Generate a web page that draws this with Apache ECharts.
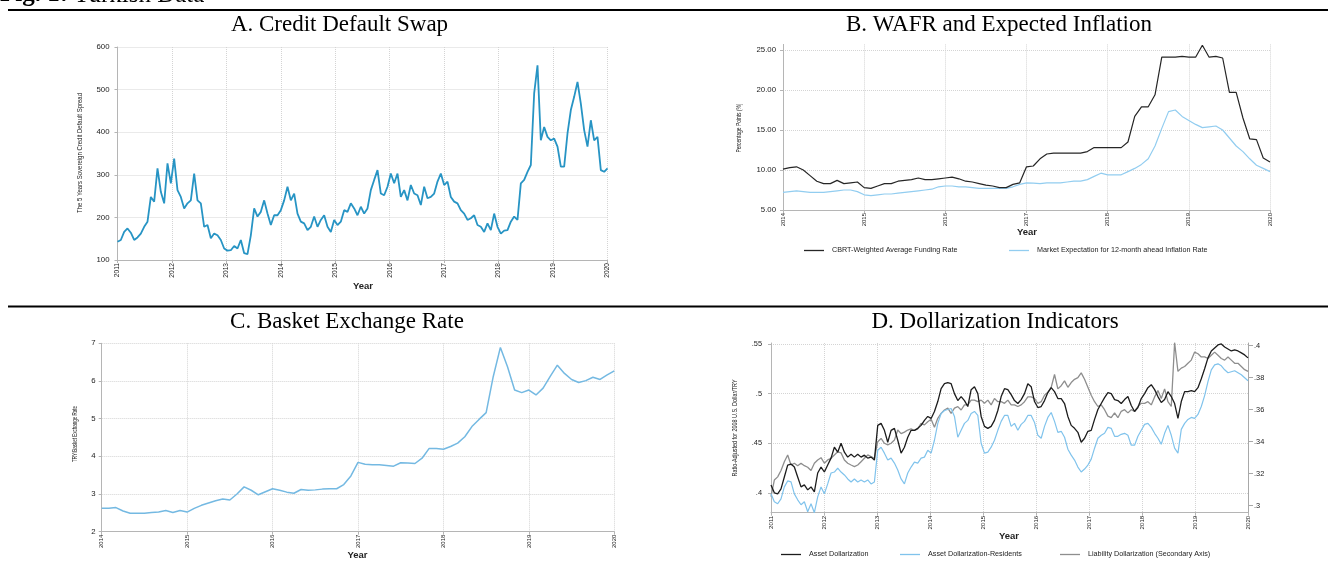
<!DOCTYPE html>
<html><head><meta charset="utf-8">
<script src="https://cdn.jsdelivr.net/npm/echarts@6/dist/echarts.min.js"></script>
<style>html,body{margin:0;padding:0;background:#fff;overflow:hidden}#c{width:1328px;height:566px}</style>
</head><body><div id="c"></div>
<script>
// ---------- DATA ----------
// A. CDS spread, roughly 3-weekly samples, 2011.0 -> 2020.0
const cdsSpread = [
143,147,166,174,164,147,153,162,178,190,248,237,315,260,233,327,280,338,264,248,221,233,240,303,240,233,178,182,151,162,158,147,127,122,123,133,127,147,116,114,158,221,202,213,240,209,182,205,205,217,240,272,240,256,209,190,186,170,178,202,178,194,205,178,166,194,182,190,217,213,233,221,205,
225,209,221,264,288,311,256,252,272,303,280,303,248,264,240,276,256,252,229,272,245,248,256,284,303,276,284,248,237,233,217,209,194,198,205,182,178,166,186,170,209,178,162,169,170,190,202,194,280,288,307,323,491,557,381,412,389,381,385,366,319,319,397,452,483,518,467,405,366,428,381,389,311,307,315];
const cdsYears = [2011, 2020];

// B. monthly, 2014-01 -> 2020-01
const wafr = [
10.1,10.3,10.4,10.0,9.3,8.6,8.3,8.3,8.7,8.3,8.4,8.5,
7.8,7.7,8.0,8.3,8.3,8.6,8.7,8.8,9.0,8.8,8.8,8.9,
9.0,9.1,8.9,8.6,8.5,8.3,8.1,8.0,7.8,7.8,8.2,8.4,
10.4,10.5,11.4,12.0,12.1,12.1,12.1,12.1,12.1,12.3,12.8,12.8,
12.8,12.8,12.8,13.5,16.7,17.9,17.9,19.4,24.1,24.1,24.1,24.2,
24.1,24.1,25.6,24.1,24.2,24.0,19.7,19.7,16.5,13.9,13.8,11.5,
11.0];
const expInflation = [
7.2,7.3,7.4,7.3,7.2,7.2,7.2,7.3,7.4,7.5,7.5,7.3,
6.9,6.8,6.9,7.0,7.0,7.1,7.2,7.3,7.4,7.5,7.6,7.9,
8.0,8.0,7.9,7.9,7.8,7.7,7.7,7.7,7.7,7.7,7.9,8.2,
8.4,8.35,8.3,8.4,8.4,8.4,8.5,8.6,8.6,8.8,9.2,9.6,
9.4,9.4,9.4,9.8,10.2,10.7,11.4,13.0,15.2,17.3,17.5,16.7,
16.2,15.7,15.3,15.4,15.5,15.0,14.0,13.0,12.3,11.4,10.6,10.2,
9.8];
const bYears = [2014, 2020];

// C. monthly, 2014-01 -> 2020-01
const basketRate = [
2.62,2.62,2.64,2.55,2.49,2.49,2.49,2.51,2.52,2.56,2.51,2.56,
2.52,2.62,2.70,2.76,2.82,2.87,2.84,3.00,3.19,3.10,2.98,3.06,
3.14,3.10,3.05,3.02,3.12,3.10,3.11,3.13,3.14,3.14,3.25,3.48,
3.84,3.79,3.78,3.78,3.76,3.74,3.83,3.82,3.81,3.95,4.21,4.21,
4.19,4.26,4.35,4.52,4.79,4.98,5.16,6.12,6.89,6.38,5.76,5.69,
5.76,5.63,5.81,6.12,6.42,6.20,6.04,5.96,6.01,6.10,6.04,6.16,
6.27];
const cYears = [2014, 2020];

// D. roughly 3-weekly samples, 2011.0 -> 2020.0
const assetDollar = [
0.408,0.400,0.399,0.404,0.416,0.428,0.429,0.426,0.416,0.406,
0.408,0.403,0.406,0.401,0.420,0.426,0.421,0.428,0.435,0.446,
0.441,0.450,0.441,0.436,0.439,0.436,0.439,0.436,0.438,0.435,
0.436,0.433,0.468,0.470,0.463,0.451,0.463,0.465,0.453,0.440,
0.446,0.456,0.463,0.463,0.465,0.468,0.473,0.477,0.475,0.482,
0.492,0.505,0.510,0.511,0.510,0.500,0.493,0.497,0.493,0.487,
0.504,0.507,0.500,0.477,0.467,0.465,0.467,0.473,0.483,0.497,
0.505,0.504,0.499,0.493,0.490,
0.494,0.500,0.510,0.507,0.492,0.486,0.487,0.493,0.501,0.506,
0.502,0.495,0.495,0.490,0.477,0.468,0.465,0.461,0.451,0.455,
0.462,0.463,0.474,0.484,0.490,0.496,0.501,0.500,0.494,0.493,
0.490,0.494,0.497,0.488,0.482,0.486,0.495,0.500,0.506,0.509,
0.504,0.497,0.491,0.494,0.502,0.497,0.490,0.475,0.492,0.502,
0.502,0.503,0.502,0.506,0.515,0.525,0.536,0.543,0.546,0.549,
0.550,0.547,0.545,0.543,0.544,0.543,0.541,0.539,0.536];
const assetDollarRes = [
0.399,0.391,0.389,0.394,0.406,0.412,0.411,0.399,0.393,0.388,
0.391,0.381,0.389,0.380,0.396,0.406,0.399,0.409,0.420,0.421,
0.425,0.421,0.418,0.414,0.411,0.414,0.411,0.413,0.411,0.413,
0.409,0.411,0.443,0.446,0.440,0.433,0.435,0.430,0.423,0.414,
0.409,0.420,0.426,0.431,0.430,0.435,0.436,0.443,0.440,0.453,
0.470,0.480,0.483,0.484,0.485,0.477,0.456,0.463,0.470,0.473,
0.480,0.482,0.478,0.450,0.440,0.441,0.446,0.453,0.463,0.472,
0.478,0.478,0.467,0.470,0.463,
0.469,0.472,0.478,0.478,0.471,0.458,0.455,0.467,0.476,0.481,
0.472,0.461,0.462,0.456,0.444,0.438,0.433,0.426,0.421,0.424,
0.428,0.434,0.445,0.455,0.458,0.460,0.466,0.465,0.457,0.457,
0.459,0.460,0.458,0.448,0.448,0.457,0.463,0.469,0.470,0.466,
0.460,0.455,0.449,0.460,0.468,0.458,0.445,0.440,0.464,0.470,
0.474,0.476,0.475,0.479,0.487,0.498,0.512,0.524,0.529,0.530,
0.528,0.524,0.521,0.522,0.523,0.521,0.519,0.516,0.513];
const liabilityDollar = [
0.3056,0.316,0.318,0.322,0.3275,0.3317,0.3254,0.3265,0.325,0.3265,
0.325,0.324,0.322,0.3265,0.3286,0.330,0.3265,0.3286,0.3296,0.3317,
0.3337,0.333,0.3286,0.3265,0.3254,0.3244,0.3254,0.3275,0.3296,0.3317,
0.3307,0.3296,0.340,0.342,0.339,0.338,0.339,0.341,0.3473,0.345,
0.346,0.3473,0.348,0.347,0.348,0.3515,0.3505,0.3525,0.354,0.349,
0.3546,0.3577,0.3598,0.361,0.3577,0.361,0.3619,0.3598,0.363,0.363,
0.366,0.366,0.365,0.366,0.364,0.366,0.363,0.367,0.365,0.365,
0.364,0.366,0.363,0.363,0.362,
0.363,0.365,0.368,0.368,0.367,0.364,0.365,0.369,0.371,0.374,
0.382,0.373,0.375,0.378,0.374,0.377,0.379,0.380,0.383,0.379,
0.374,0.369,0.365,0.362,0.363,0.360,0.356,0.355,0.358,0.355,
0.359,0.360,0.358,0.360,0.359,0.362,0.364,0.364,0.365,0.363,
0.368,0.372,0.367,0.373,0.365,0.362,0.402,0.384,0.386,0.387,
0.389,0.391,0.396,0.395,0.393,0.393,0.392,0.394,0.396,0.394,
0.392,0.391,0.393,0.391,0.389,0.389,0.387,0.385,0.384];
const dYears = [2011, 2020];

const bTicks = [5, 10, 15, 20, 25];
const dLeftTicks = [0.4, 0.45, 0.5, 0.55];
const dRightTicks = [0.3, 0.32, 0.34, 0.36, 0.38, 0.4];

// ---------- HELPERS ----------
const SANS = "'Liberation Sans', Arial, sans-serif";
const SERIF = "'Liberation Serif', 'Times New Roman', serif";
function spread(values, span) {
  const n = values.length;
  return values.map((v, i) => [span[0] + (span[1] - span[0]) * i / (n - 1), v]);
}
const AX = '#b5b5b5', GRID = '#d4d4d4', TXT = '#222';
function xYears(gi, span, fs) {
  return {
    type: 'value', gridIndex: gi, min: span[0], max: span[1], interval: 1,
    axisLine: { show: true, onZero: false, lineStyle: { color: AX, width: 1 } },
    axisTick: { show: true, length: 3, lineStyle: { color: AX } },
    axisLabel: { rotate: 90, fontSize: fs, fontFamily: SANS, color: TXT, margin: 3, formatter: v => String(v) },
    splitLine: { show: true, lineStyle: { type: 'dotted', color: GRID, width: 1 } }
  };
}
function yVal(gi, o) {
  return Object.assign({
    type: 'value', gridIndex: gi,
    axisLine: { show: true, lineStyle: { color: AX, width: 1 } },
    axisTick: { show: true, length: 3, lineStyle: { color: AX } },
    splitLine: { show: true, lineStyle: { type: 'dotted', color: GRID, width: 1 } }
  }, o);
}
const strip0 = v => String(+v.toFixed(2)).replace(/^0\./, '.');

const mctx = document.createElement('canvas').getContext('2d');
function fitText(text, x, y, len, fs, rot) {
  mctx.font = fs + 'px ' + SANS;
  const w = mctx.measureText(text).width;
  return { type: 'text', x: x, y: y, rotation: rot || 0, scaleX: len / w, scaleY: 1, silent: true,
    style: { text: text, fontSize: fs, fontFamily: SANS, fill: TXT,
      align: 'center', verticalAlign: 'middle', textAlign: 'center', textVerticalAlign: 'middle' } };
}
function label(text, x, y, font, weight, align) {
  return { type: 'text', x: x, y: y, silent: true,
    style: { text: text, fontSize: font.size, fontFamily: font.family, fontWeight: weight || 'normal', fill: font.color || '#000',
      align: align || 'center', verticalAlign: 'middle', textAlign: align || 'center', textVerticalAlign: 'middle' } };
}
function hline(y) {
  return { type: 'line', silent: true, shape: { x1: 8, y1: y, x2: 1328, y2: y }, style: { stroke: '#000', lineWidth: 2 } };
}
const TITLE = { size: 23, family: SERIF };
const YEAR = { size: 9.5, family: SANS, color: '#222' };

function legendAt(name, left, top) {
  return { data: [name], left: left, top: top, icon: 'rect', itemWidth: 20, itemHeight: 1.3,
    selectedMode: false, padding: 0, textStyle: { fontSize: 7.2, fontFamily: SANS, color: TXT, padding: [0, 0, 0, 3] } };
}

// ---------- CHART ----------
const chart = echarts.init(document.getElementById('c'), null, { renderer: 'canvas' });
chart.setOption({
  animation: false,
  backgroundColor: '#fff',
  grid: [
    { left: 117.5, top: 47, width: 490, height: 213, outerBoundsMode: 'none' },
    { left: 783, top: 44.4, width: 487, height: 165.6, outerBoundsMode: 'none' },
    { left: 101.7, top: 343.3, width: 512.6, height: 188.4, outerBoundsMode: 'none' },
    { left: 771, top: 343, width: 477, height: 169.7, outerBoundsMode: 'none' }
  ],
  xAxis: [ xYears(0, cdsYears, 6.6), xYears(1, bYears, 6), xYears(2, cYears, 6), xYears(3, dYears, 6.2) ],
  yAxis: [
    yVal(0, { min: 100, max: 600, interval: 100, axisLabel: { fontSize: 7.8, fontFamily: SANS, color: TXT, margin: 8 } }),
    yVal(1, { min: 5, max: 25.7,
      axisTick: { show: true, length: 3, lineStyle: { color: AX }, customValues: bTicks },
      axisLabel: { fontSize: 7.8, fontFamily: SANS, color: TXT, margin: 7, customValues: bTicks, formatter: v => v.toFixed(2) } }),
    yVal(2, { min: 2, max: 7, interval: 1, axisLabel: { fontSize: 7.8, fontFamily: SANS, color: TXT, margin: 6 } }),
    yVal(3, { min: 0.38, max: 0.551,
      axisTick: { show: true, length: 3, lineStyle: { color: AX }, customValues: dLeftTicks },
      axisLabel: { fontSize: 7.4, fontFamily: SANS, color: TXT, margin: 9, customValues: dLeftTicks, formatter: strip0 } }),
    yVal(3, { position: 'right', min: 0.2956, max: 0.4017,
      axisLine: { show: true, lineStyle: { color: '#a8a8a8', width: 1 } },
      axisTick: { show: true, length: 5, lineStyle: { color: '#a8a8a8' }, customValues: dRightTicks },
      axisLabel: { fontSize: 7.4, fontFamily: SANS, color: TXT, margin: 6, customValues: dRightTicks, formatter: strip0 },
      splitLine: { show: false } })
  ],
  legend: [
    legendAt('CBRT-Weighted Average Funding Rate', 804, 247),
    legendAt('Market Expectation for 12-month ahead Inflation Rate', 1009, 247),
    legendAt('Asset Dollarization', 781, 551),
    legendAt('Asset Dollarization-Residents', 900, 551),
    legendAt('Liability Dollarization (Secondary Axis)', 1060, 551)
  ],
  series: [
    { name: 'CDS', type: 'line', xAxisIndex: 0, yAxisIndex: 0, data: spread(cdsSpread, cdsYears),
      symbol: 'none', color: '#2794c4', lineStyle: { width: 1.8, color: '#2794c4' } },
    { name: 'Market Expectation for 12-month ahead Inflation Rate', type: 'line', xAxisIndex: 1, yAxisIndex: 1,
      data: spread(expInflation, bYears), symbol: 'none', color: '#92cdf0', lineStyle: { width: 1.2, color: '#92cdf0' } },
    { name: 'CBRT-Weighted Average Funding Rate', type: 'line', xAxisIndex: 1, yAxisIndex: 1,
      data: spread(wafr, bYears), symbol: 'none', color: '#262626', lineStyle: { width: 1.2, color: '#262626' } },
    { name: 'Basket', type: 'line', xAxisIndex: 2, yAxisIndex: 2, data: spread(basketRate, cYears),
      symbol: 'none', color: '#74b9e2', lineStyle: { width: 1.5, color: '#74b9e2' } },
    { name: 'Liability Dollarization (Secondary Axis)', type: 'line', xAxisIndex: 3, yAxisIndex: 4,
      data: spread(liabilityDollar, dYears), symbol: 'none', color: '#8e8e8e', lineStyle: { width: 1.3, color: '#8e8e8e' } },
    { name: 'Asset Dollarization-Residents', type: 'line', xAxisIndex: 3, yAxisIndex: 3,
      data: spread(assetDollarRes, dYears), symbol: 'none', color: '#80c3ec', lineStyle: { width: 1.2, color: '#80c3ec' } },
    { name: 'Asset Dollarization', type: 'line', xAxisIndex: 3, yAxisIndex: 3,
      data: spread(assetDollar, dYears), symbol: 'none', color: '#1c1c1c', lineStyle: { width: 1.3, color: '#1c1c1c' } }
  ],
  graphic: [
    hline(10), hline(306.5),
    label('Fig. 1:', 0, -5, { size: 25, family: SERIF }, 'bold', 'left'),
    label('Turkish Data', 74, -5, { size: 25, family: SERIF }, 'normal', 'left'),
    label('A. Credit Default Swap', 339.5, 25, TITLE),
    label('B. WAFR and Expected Inflation', 999, 25, TITLE),
    label('C. Basket Exchange Rate', 347, 322, TITLE),
    label('D. Dollarization Indicators', 995, 322, TITLE),
    label('Year', 363, 286, YEAR, 'bold'),
    label('Year', 1027, 232, YEAR, 'bold'),
    label('Year', 357.5, 555, YEAR, 'bold'),
    label('Year', 1009, 536, YEAR, 'bold'),
    fitText('The 5 Years Sovereign Credit Default Spread', 80, 153, 120, 7.8, Math.PI / 2),
    fitText('Percentage Points (%)', 739, 128, 49, 7.4, Math.PI / 2),
    fitText('TRY/Basket Exchange Rate', 75, 434, 56, 7.4, Math.PI / 2),
    fitText('Ratio-Adjusted for 2008 U.S. Dollar/TRY', 735, 428, 97, 7.4, Math.PI / 2)
  ]
});
</script>
</body></html>
